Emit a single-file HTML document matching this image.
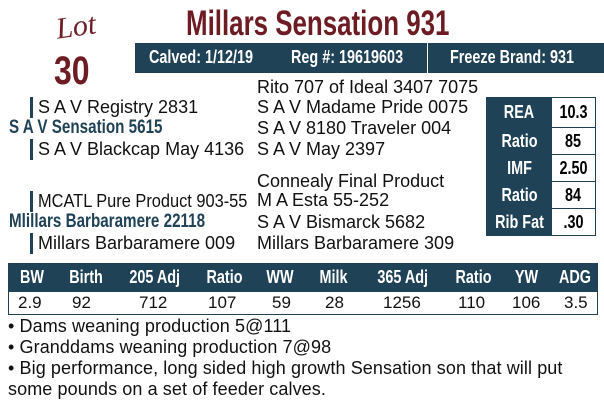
<!DOCTYPE html>
<html><head><style>
body{margin:0;width:604px;height:406px;background:#fff;position:relative;overflow:hidden;font-family:"Liberation Sans",sans-serif}
.a{position:absolute;white-space:nowrap}
.c{font-weight:bold;display:inline-block;transform:scaleX(0.8);transform-origin:left center}
.p{color:#111;line-height:20px;font-size:18px}
.bar{position:absolute;width:3px;background:#1f4257}
.nm{font-size:19px;color:#1f4257}
.hd{color:#fff;font-size:18px}
.t td{border:1px solid #1f4257;height:26px;padding:0;text-align:center}
.b{font-size:18px;color:#111;letter-spacing:0.1px}
</style></head><body>
<div class="a" style="left:56px;top:10px;font-family:'Liberation Serif',serif;font-style:italic;font-size:30px;color:#6e1c24;transform:rotate(-8deg)">Lot</div>
<div class="a" style="left:54px;top:49px;font-size:40px;color:#6e1c24"><span class="c">30</span></div>
<div class="a" style="left:186px;top:4px;font-size:35px;color:#6e1c24;line-height:40px"><span class="c" style="transform:scaleX(0.74)">Millars Sensation 931</span></div>
<div class="a" style="left:135px;top:43px;width:469px;height:30px;background:#1f4257"></div>
<div class="a" style="left:427px;top:43px;width:1px;height:30px;background:#fff"></div>
<div class="a hd" style="left:149px;top:47px"><span class="c">Calved: 1/12/19</span></div>
<div class="a hd" style="left:291px;top:47px"><span class="c">Reg #: 19619603</span></div>
<div class="a hd" style="left:450px;top:47px"><span class="c">Freeze Brand: 931</span></div>

<div class="bar" style="left:30px;top:97px;height:21px"></div>
<div class="bar" style="left:30px;top:139px;height:21px"></div>
<div class="bar" style="left:30px;top:191px;height:21px"></div>
<div class="bar" style="left:30px;top:233px;height:21px"></div>
<div class="a p" style="left:38px;top:97px">S A V Registry 2831</div>
<div class="a nm" style="left:9px;top:117px"><span class="c">S A V Sensation 5615</span></div>
<div class="a p" style="left:38px;top:139px">S A V Blackcap May 4136</div>
<div class="a p" style="left:38px;top:191px;transform:scaleX(0.91);transform-origin:left center">MCATL Pure Product 903-55</div>
<div class="a nm" style="left:9px;top:211px"><span class="c">Mlillars Barbaramere 22118</span></div>
<div class="a p" style="left:38px;top:233px">Millars Barbaramere 009</div>

<div class="a p" style="left:257px;top:77px">Rito 707 of Ideal 3407 7075</div>
<div class="a p" style="left:257px;top:97px">S A V Madame Pride 0075</div>
<div class="a p" style="left:257px;top:118px">S A V 8180 Traveler 004</div>
<div class="a p" style="left:257px;top:139px">S A V May 2397</div>
<div class="a p" style="left:257px;top:171px">Connealy Final Product</div>
<div class="a p" style="left:257px;top:190px">M A Esta 55-252</div>
<div class="a p" style="left:257px;top:212px">S A V Bismarck 5682</div>
<div class="a p" style="left:257px;top:233px">Millars Barbaramere 309</div>

<table class="t a" style="left:486px;top:97px;border-collapse:collapse;width:110px">
<tr><td style="background:#1f4257;color:#fff;width:64px;height:29px;font-size:18px"><span class="c" style="transform-origin:center">REA</span></td><td style="font-size:18px"><span class="c" style="transform-origin:center">10.3</span></td></tr>
<tr><td style="background:#1f4257;color:#fff;font-size:18px"><span class="c" style="transform-origin:center">Ratio</span></td><td style="font-size:18px"><span class="c" style="transform-origin:center">85</span></td></tr>
<tr><td style="background:#1f4257;color:#fff;font-size:18px"><span class="c" style="transform-origin:center">IMF</span></td><td style="font-size:18px"><span class="c" style="transform-origin:center">2.50</span></td></tr>
<tr><td style="background:#1f4257;color:#fff;font-size:18px"><span class="c" style="transform-origin:center">Ratio</span></td><td style="font-size:18px"><span class="c" style="transform-origin:center">84</span></td></tr>
<tr><td style="background:#1f4257;color:#fff;font-size:18px"><span class="c" style="transform-origin:center">Rib Fat</span></td><td style="font-size:18px"><span class="c" style="transform-origin:center">.30</span></td></tr>
</table>

<div class="a" style="left:8px;top:263px;width:590px;height:29px;background:#1f4257"></div>
<div class="a" style="left:8px;top:292px;width:588px;height:22px;border:1px solid #1f4257;border-top:none"></div>
<div class="a" style="left:8px;top:267px;width:590px;height:20px;font-size:18px;color:#fff">
<span class="a c" style="left:9px;transform-origin:center">BW</span>
<span class="a c" style="left:57px;transform-origin:center">Birth</span>
<span class="a c" style="left:115px;transform-origin:center">205 Adj</span>
<span class="a c" style="left:194px;transform-origin:center">Ratio</span>
<span class="a c" style="left:255px;transform-origin:center">WW</span>
<span class="a c" style="left:308px;transform-origin:center">Milk</span>
<span class="a c" style="left:363px;transform-origin:center">365 Adj</span>
<span class="a c" style="left:443px;transform-origin:center">Ratio</span>
<span class="a c" style="left:504px;transform-origin:center">YW</span>
<span class="a c" style="left:547px;transform-origin:center">ADG</span>
</div>
<div class="a" style="left:8px;top:293px;width:590px;height:20px;font-size:17px;color:#111">
<span class="a" style="left:10px">2.9</span>
<span class="a" style="left:64px">92</span>
<span class="a" style="left:131px">712</span>
<span class="a" style="left:200px">107</span>
<span class="a" style="left:264px">59</span>
<span class="a" style="left:317px">28</span>
<span class="a" style="left:375px">1256</span>
<span class="a" style="left:450px">110</span>
<span class="a" style="left:504px">106</span>
<span class="a" style="left:556px">3.5</span>
</div>
<div class="a b" style="left:8px;top:316px">• Dams weaning production 5@111</div>
<div class="a b" style="left:8px;top:337px">• Granddams weaning production 7@98</div>
<div class="a b" style="left:8px;top:358px">• Big performance, long sided high growth Sensation son that will put</div>
<div class="a b" style="left:8px;top:379px">some pounds on a set of feeder calves.</div>
</body></html>
